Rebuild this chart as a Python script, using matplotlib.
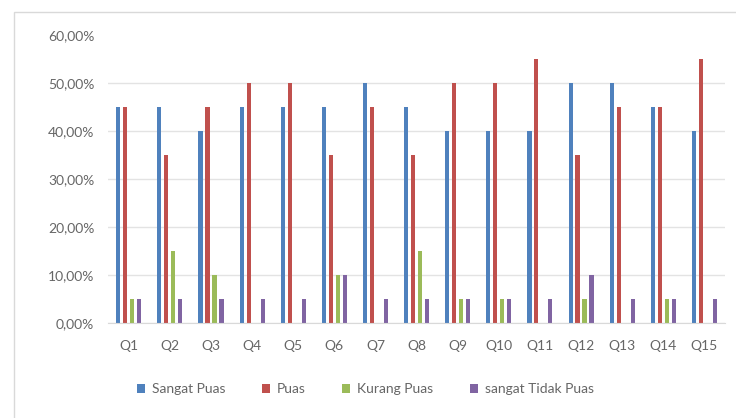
import numpy as np
import matplotlib.pyplot as plt
from matplotlib.patches import Rectangle
from matplotlib.ticker import FuncFormatter

plt.rcParams['font.family'] = ['Lato', 'DejaVu Sans']

questions = ['Q1', 'Q2', 'Q3', 'Q4', 'Q5', 'Q6', 'Q7', 'Q8', 'Q9', 'Q10',
             'Q11', 'Q12', 'Q13', 'Q14', 'Q15']
sangat_puas = [45, 45, 40, 45, 45, 45, 50, 45, 40, 40, 40, 50, 50, 45, 40]
puas = [45, 35, 45, 50, 50, 35, 45, 35, 50, 50, 55, 35, 45, 45, 55]
kurang_puas = [5, 15, 10, 0, 0, 10, 0, 15, 5, 5, 0, 5, 0, 5, 0]
sangat_tidak_puas = [5, 5, 5, 5, 5, 10, 5, 5, 5, 5, 5, 10, 5, 5, 5]

series = [
    ('Sangat Puas', sangat_puas, '#4F81BD'),
    ('Puas', puas, '#C0504D'),
    ('Kurang Puas', kurang_puas, '#9BBB59'),
    ('sangat Tidak Puas', sangat_tidak_puas, '#8064A2'),
]

fig = plt.figure(figsize=(7.36, 4.18), dpi=100)
ax = fig.add_axes([0.147, 0.227, 0.838, 0.689])

# light frame round the chart area
fig.patches.append(Rectangle((14 / 736, -0.01), 1.0, 1 - 12 / 418 + 0.01,
                             transform=fig.transFigure, fill=False,
                             edgecolor='#D9D9D9', linewidth=1.0))

x = np.arange(len(questions))
pitch = 0.17
width = 0.1
for i, (name, vals, color) in enumerate(series):
    ax.bar(x + (i - 1.5) * pitch, vals, width=width, color=color, label=name)

ax.set_ylim(0, 60)
ax.set_xlim(-0.5, len(questions) - 0.5)
ax.set_yticks(np.arange(0, 61, 10))
ax.yaxis.set_major_formatter(FuncFormatter(lambda v, p: f'{v:.2f}%'.replace('.', ',')))
ax.set_xticks(x)
ax.set_xticklabels(questions)

ax.grid(axis='y', color='#E3E3E3', linewidth=1.0)
ax.get_ygridlines()[-1].set_visible(False)
ax.set_axisbelow(True)
for side in ['top', 'right', 'left']:
    ax.spines[side].set_visible(False)
ax.spines['bottom'].set_color('#D9D9D9')
ax.tick_params(axis='both', length=0, colors='#666666', labelsize=10)
ax.tick_params(axis='y', pad=10)
ax.tick_params(axis='x', pad=12)

ax.legend(loc='upper center', bbox_to_anchor=(0.417, -0.165), ncol=4, frameon=False,
          fontsize=10, labelcolor='#666666', handlelength=0.6, handleheight=0.6,
          handletextpad=0.5, columnspacing=2.6)

plt.savefig('out.png', dpi=100)
plt.close()
